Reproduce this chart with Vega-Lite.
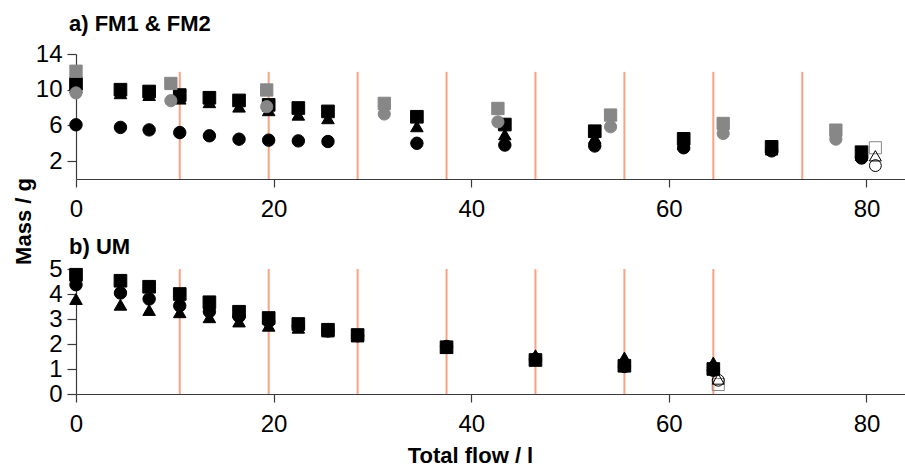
{
  "$schema": "https://vega.github.io/schema/vega-lite/v6.json",
  "padding": {"left": 12, "top": 13, "right": 0, "bottom": 0},
  "background": "white",
  "spacing": 90,
  "bounds": "flush",
  "datasets": {
    "rules": [
      {"panel": "a", "flow": 10.5, "top": 12}, {"panel": "a", "flow": 19.5, "top": 12},
      {"panel": "a", "flow": 28.5, "top": 12}, {"panel": "a", "flow": 37.5, "top": 12},
      {"panel": "a", "flow": 46.5, "top": 12}, {"panel": "a", "flow": 55.5, "top": 12},
      {"panel": "a", "flow": 64.5, "top": 12}, {"panel": "a", "flow": 73.5, "top": 12},
      {"panel": "b", "flow": 10.5, "top": 5}, {"panel": "b", "flow": 19.5, "top": 5},
      {"panel": "b", "flow": 28.5, "top": 5}, {"panel": "b", "flow": 37.5, "top": 5},
      {"panel": "b", "flow": 46.5, "top": 5}, {"panel": "b", "flow": 55.5, "top": 5},
      {"panel": "b", "flow": 64.5, "top": 5}
    ],
    "points": [
      {"panel": "a", "series": "black square", "flow": 0, "mass": 10.65},
      {"panel": "a", "series": "black square", "flow": 4.5, "mass": 10.0},
      {"panel": "a", "series": "black square", "flow": 7.4, "mass": 9.8},
      {"panel": "a", "series": "black square", "flow": 10.5, "mass": 9.4},
      {"panel": "a", "series": "black square", "flow": 13.5, "mass": 9.1},
      {"panel": "a", "series": "black square", "flow": 16.5, "mass": 8.8},
      {"panel": "a", "series": "black square", "flow": 19.5, "mass": 8.3},
      {"panel": "a", "series": "black square", "flow": 22.5, "mass": 7.95},
      {"panel": "a", "series": "black square", "flow": 25.5, "mass": 7.57},
      {"panel": "a", "series": "black square", "flow": 34.5, "mass": 6.97},
      {"panel": "a", "series": "black square", "flow": 43.4, "mass": 6.1},
      {"panel": "a", "series": "black square", "flow": 52.5, "mass": 5.35},
      {"panel": "a", "series": "black square", "flow": 61.5, "mass": 4.5},
      {"panel": "a", "series": "black square", "flow": 70.4, "mass": 3.6},
      {"panel": "a", "series": "black square", "flow": 79.5, "mass": 3.0},
      {"panel": "a", "series": "black triangle", "flow": 0, "mass": 10.3},
      {"panel": "a", "series": "black triangle", "flow": 4.5, "mass": 9.6},
      {"panel": "a", "series": "black triangle", "flow": 7.4, "mass": 9.4},
      {"panel": "a", "series": "black triangle", "flow": 10.5, "mass": 9.0},
      {"panel": "a", "series": "black triangle", "flow": 13.5, "mass": 8.6},
      {"panel": "a", "series": "black triangle", "flow": 16.5, "mass": 8.1},
      {"panel": "a", "series": "black triangle", "flow": 19.5, "mass": 7.7},
      {"panel": "a", "series": "black triangle", "flow": 22.5, "mass": 7.2},
      {"panel": "a", "series": "black triangle", "flow": 25.5, "mass": 6.8},
      {"panel": "a", "series": "black triangle", "flow": 34.5, "mass": 5.9},
      {"panel": "a", "series": "black triangle", "flow": 43.4, "mass": 5.0},
      {"panel": "a", "series": "black triangle", "flow": 52.5, "mass": 4.6},
      {"panel": "a", "series": "black triangle", "flow": 61.5, "mass": 3.9},
      {"panel": "a", "series": "black triangle", "flow": 70.4, "mass": 3.3},
      {"panel": "a", "series": "black triangle", "flow": 79.5, "mass": 2.7},
      {"panel": "a", "series": "black circle", "flow": 0, "mass": 6.07},
      {"panel": "a", "series": "black circle", "flow": 4.5, "mass": 5.78},
      {"panel": "a", "series": "black circle", "flow": 7.4, "mass": 5.5},
      {"panel": "a", "series": "black circle", "flow": 10.5, "mass": 5.2},
      {"panel": "a", "series": "black circle", "flow": 13.5, "mass": 4.84},
      {"panel": "a", "series": "black circle", "flow": 16.5, "mass": 4.46},
      {"panel": "a", "series": "black circle", "flow": 19.5, "mass": 4.35},
      {"panel": "a", "series": "black circle", "flow": 22.5, "mass": 4.27},
      {"panel": "a", "series": "black circle", "flow": 25.5, "mass": 4.2},
      {"panel": "a", "series": "black circle", "flow": 34.5, "mass": 4.0},
      {"panel": "a", "series": "black circle", "flow": 43.4, "mass": 3.8},
      {"panel": "a", "series": "black circle", "flow": 52.5, "mass": 3.7},
      {"panel": "a", "series": "black circle", "flow": 61.5, "mass": 3.5},
      {"panel": "a", "series": "black circle", "flow": 70.4, "mass": 3.15},
      {"panel": "a", "series": "black circle", "flow": 79.5, "mass": 2.35},
      {"panel": "a", "series": "grey square", "flow": 0, "mass": 12.07},
      {"panel": "a", "series": "grey square", "flow": 9.6, "mass": 10.7},
      {"panel": "a", "series": "grey square", "flow": 19.3, "mass": 9.97},
      {"panel": "a", "series": "grey square", "flow": 31.2, "mass": 8.47},
      {"panel": "a", "series": "grey square", "flow": 42.7, "mass": 7.9},
      {"panel": "a", "series": "grey square", "flow": 54.1, "mass": 7.16},
      {"panel": "a", "series": "grey square", "flow": 65.5, "mass": 6.22},
      {"panel": "a", "series": "grey square", "flow": 76.9, "mass": 5.47},
      {"panel": "a", "series": "grey circle", "flow": 0, "mass": 9.64},
      {"panel": "a", "series": "grey circle", "flow": 9.6, "mass": 8.77},
      {"panel": "a", "series": "grey circle", "flow": 19.3, "mass": 8.1},
      {"panel": "a", "series": "grey circle", "flow": 31.2, "mass": 7.28},
      {"panel": "a", "series": "grey circle", "flow": 42.7, "mass": 6.4},
      {"panel": "a", "series": "grey circle", "flow": 54.1, "mass": 5.85},
      {"panel": "a", "series": "grey circle", "flow": 65.5, "mass": 5.1},
      {"panel": "a", "series": "grey circle", "flow": 76.9, "mass": 4.46},
      {"panel": "a", "series": "open square", "flow": 80.9, "mass": 3.5},
      {"panel": "a", "series": "open triangle", "flow": 80.9, "mass": 2.6},
      {"panel": "a", "series": "open circle", "flow": 80.9, "mass": 1.5},
      {"panel": "b", "series": "black square", "flow": 0, "mass": 4.77},
      {"panel": "b", "series": "black square", "flow": 4.5, "mass": 4.53},
      {"panel": "b", "series": "black square", "flow": 7.4, "mass": 4.29},
      {"panel": "b", "series": "black square", "flow": 10.5, "mass": 4.0},
      {"panel": "b", "series": "black square", "flow": 13.5, "mass": 3.67},
      {"panel": "b", "series": "black square", "flow": 16.5, "mass": 3.29},
      {"panel": "b", "series": "black square", "flow": 19.5, "mass": 3.04},
      {"panel": "b", "series": "black square", "flow": 22.5, "mass": 2.8},
      {"panel": "b", "series": "black square", "flow": 25.5, "mass": 2.57},
      {"panel": "b", "series": "black square", "flow": 28.5, "mass": 2.36},
      {"panel": "b", "series": "black square", "flow": 37.5, "mass": 1.87},
      {"panel": "b", "series": "black square", "flow": 46.5, "mass": 1.36},
      {"panel": "b", "series": "black square", "flow": 55.5, "mass": 1.13},
      {"panel": "b", "series": "black square", "flow": 64.5, "mass": 1.0},
      {"panel": "b", "series": "black triangle", "flow": 0, "mass": 3.8},
      {"panel": "b", "series": "black triangle", "flow": 4.5, "mass": 3.57},
      {"panel": "b", "series": "black triangle", "flow": 7.4, "mass": 3.36},
      {"panel": "b", "series": "black triangle", "flow": 10.5, "mass": 3.27},
      {"panel": "b", "series": "black triangle", "flow": 13.5, "mass": 3.07},
      {"panel": "b", "series": "black triangle", "flow": 16.5, "mass": 2.9},
      {"panel": "b", "series": "black triangle", "flow": 19.5, "mass": 2.73},
      {"panel": "b", "series": "black triangle", "flow": 22.5, "mass": 2.65},
      {"panel": "b", "series": "black triangle", "flow": 25.5, "mass": 2.5},
      {"panel": "b", "series": "black triangle", "flow": 28.5, "mass": 2.3},
      {"panel": "b", "series": "black triangle", "flow": 37.5, "mass": 1.85},
      {"panel": "b", "series": "black triangle", "flow": 46.5, "mass": 1.55},
      {"panel": "b", "series": "black triangle", "flow": 55.5, "mass": 1.46},
      {"panel": "b", "series": "black triangle", "flow": 64.5, "mass": 1.26},
      {"panel": "b", "series": "black circle", "flow": 0, "mass": 4.37},
      {"panel": "b", "series": "black circle", "flow": 4.5, "mass": 4.04},
      {"panel": "b", "series": "black circle", "flow": 7.4, "mass": 3.8},
      {"panel": "b", "series": "black circle", "flow": 10.5, "mass": 3.53},
      {"panel": "b", "series": "black circle", "flow": 13.5, "mass": 3.3},
      {"panel": "b", "series": "black circle", "flow": 16.5, "mass": 3.1},
      {"panel": "b", "series": "black circle", "flow": 19.5, "mass": 2.9},
      {"panel": "b", "series": "black circle", "flow": 22.5, "mass": 2.72},
      {"panel": "b", "series": "black circle", "flow": 25.5, "mass": 2.52},
      {"panel": "b", "series": "black circle", "flow": 28.5, "mass": 2.33},
      {"panel": "b", "series": "black circle", "flow": 37.5, "mass": 1.9},
      {"panel": "b", "series": "black circle", "flow": 46.5, "mass": 1.4},
      {"panel": "b", "series": "black circle", "flow": 55.5, "mass": 1.1},
      {"panel": "b", "series": "black circle", "flow": 64.5, "mass": 0.95},
      {"panel": "b", "series": "open square", "flow": 65.0, "mass": 0.38},
      {"panel": "b", "series": "open triangle", "flow": 65.0, "mass": 0.6},
      {"panel": "b", "series": "open circle", "flow": 65.0, "mass": 0.55}
    ]
  },
  "vconcat": [
    {
      "width": 830,
      "height": 125,
      "title": {"text": "a) FM1 & FM2", "anchor": "start", "frame": "group", "dx": -7, "offset": -11, "baseline": "alphabetic", "fontSize": 22, "fontWeight": "bold", "font": "Liberation Sans", "color": "#000"},
      "layer": [
        {
          "data": {"name": "rules"},
          "transform": [{"filter": "datum.panel === 'a'"}],
          "mark": {"type": "rule", "color": "#F9A283", "strokeWidth": 2},
          "encoding": {
            "x": {"field": "flow", "type": "quantitative", "scale": {"domain": [0, 84], "nice": false},
              "axis": {"values": [0, 20, 40, 60, 80], "title": null, "labelFlush": false, "labelOverlap": false}},
            "y": {"field": "top", "type": "quantitative", "scale": {"domain": [0, 14], "nice": false},
              "axis": {"values": [2, 6, 10, 14], "labelOverlap": false, "title": "Mass / g", "titleAngle": -90, "titleAlign": "center", "titleBaseline": "alphabetic", "titleX": -46, "titleY": 167}},
            "y2": {"datum": 0}
          }
        },
        {
          "data": {"name": "points"},
          "transform": [{"filter": "datum.panel === 'a'"}],
          "mark": {"type": "point", "strokeWidth": 1, "opacity": 1},
          "encoding": {
            "x": {"field": "flow", "type": "quantitative", "scale": {"domain": [0, 84], "nice": false},
              "axis": {"values": [0, 20, 40, 60, 80], "title": null, "labelFlush": false, "labelOverlap": false}},
            "y": {"field": "mass", "type": "quantitative", "scale": {"domain": [0, 14], "nice": false},
              "axis": {"values": [2, 6, 10, 14], "labelOverlap": false, "title": "Mass / g", "titleAngle": -90, "titleAlign": "center", "titleBaseline": "alphabetic", "titleX": -46, "titleY": 167}},
            "shape": {"field": "series", "type": "nominal", "legend": null,
              "scale": {"domain": ["black square", "black triangle", "black circle", "grey square", "grey circle", "open square", "open triangle", "open circle"],
                "range": ["square", "triangle-up", "circle", "square", "circle", "square", "triangle-up", "circle"]}},
            "fill": {"field": "series", "type": "nominal", "legend": null,
              "scale": {"domain": ["black square", "black triangle", "black circle", "grey square", "grey circle", "open square", "open triangle", "open circle"],
                "range": ["#000000", "#000000", "#000000", "#878787", "#878787", "transparent", "transparent", "transparent"]}},
            "stroke": {"field": "series", "type": "nominal", "legend": null,
              "scale": {"domain": ["black square", "black triangle", "black circle", "grey square", "grey circle", "open square", "open triangle", "open circle"],
                "range": ["#000000", "#000000", "#000000", "#878787", "#878787", "#878787", "#000000", "#000000"]}},
            "size": {"field": "series", "type": "nominal", "legend": null,
              "scale": {"domain": ["black square", "black triangle", "black circle", "grey square", "grey circle", "open square", "open triangle", "open circle"],
                "range": [160, 140, 110, 160, 110, 130, 110, 120]}}
          }
        }
      ]
    },
    {
      "width": 830,
      "height": 125,
      "title": {"text": "b) UM", "anchor": "start", "frame": "group", "dx": -7, "offset": -19, "baseline": "alphabetic", "fontSize": 22, "fontWeight": "bold", "font": "Liberation Sans", "color": "#000"},
      "layer": [
        {
          "data": {"name": "rules"},
          "transform": [{"filter": "datum.panel === 'b'"}],
          "mark": {"type": "rule", "color": "#F9A283", "strokeWidth": 2},
          "encoding": {
            "x": {"field": "flow", "type": "quantitative", "scale": {"domain": [0, 84], "nice": false},
              "axis": {"values": [0, 20, 40, 60, 80], "title": "Total flow / l", "labelFlush": false, "labelOverlap": false, "titleX": 394, "titleAlign": "center", "titleBaseline": "top", "titleY": 51}},
            "y": {"field": "top", "type": "quantitative", "scale": {"domain": [0, 5], "nice": false},
              "axis": {"values": [0, 1, 2, 3, 4, 5], "labelOverlap": false, "title": null}},
            "y2": {"datum": 0}
          }
        },
        {
          "data": {"name": "points"},
          "transform": [{"filter": "datum.panel === 'b'"}],
          "mark": {"type": "point", "strokeWidth": 1, "opacity": 1},
          "encoding": {
            "x": {"field": "flow", "type": "quantitative", "scale": {"domain": [0, 84], "nice": false},
              "axis": {"values": [0, 20, 40, 60, 80], "title": "Total flow / l", "labelFlush": false, "labelOverlap": false, "titleX": 394, "titleAlign": "center", "titleBaseline": "top", "titleY": 51}},
            "y": {"field": "mass", "type": "quantitative", "scale": {"domain": [0, 5], "nice": false},
              "axis": {"values": [0, 1, 2, 3, 4, 5], "labelOverlap": false, "title": null}},
            "shape": {"field": "series", "type": "nominal", "legend": null},
            "fill": {"field": "series", "type": "nominal", "legend": null},
            "stroke": {"field": "series", "type": "nominal", "legend": null},
            "size": {"field": "series", "type": "nominal", "legend": null}
          }
        }
      ]
    }
  ],
  "config": {
    "view": {"stroke": null},
    "axis": {
      "grid": false,
      "domainColor": "#3a3a3a",
      "domainWidth": 1.2,
      "tickColor": "#3a3a3a",
      "tickWidth": 1.2,
      "tickSize": 9,
      "labelColor": "#000000",
      "labelFont": "Liberation Sans",
      "labelFontSize": 24,
      "labelPadding": 5,
      "titleFont": "Liberation Sans",
      "titleFontSize": 22,
      "titleFontWeight": "bold",
      "titleColor": "#000000"
    },
    "axisX": {"labelPadding": 10, "tickSize": 8}
  }
}
